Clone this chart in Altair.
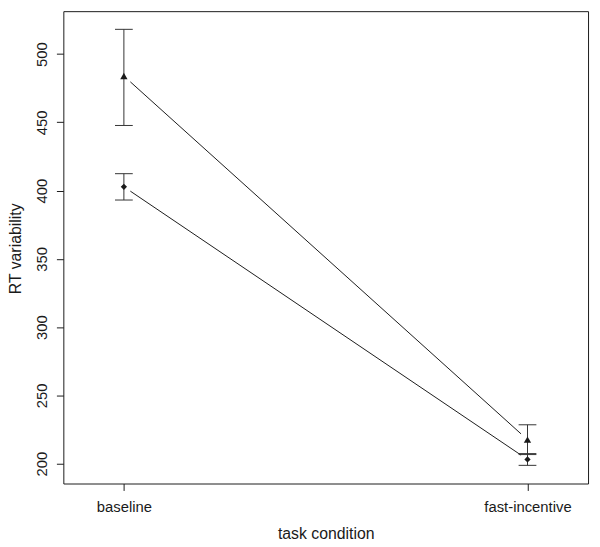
import altair as alt
import pandas as pd

# ---- data ----
conditions = ["baseline", "fast-incentive"]
cond_pos = [1, 2]

tri_mean = [483.9, 217.6]
tri_upper = [518.1, 228.5]
tri_lower = [447.7, 206.7]

dia_mean = [402.8, 203.1]
dia_upper = [412.4, 207.4]
dia_lower = [393.1, 198.8]

y_ticks = [200, 250, 300, 350, 400, 450, 500]

# ---- styling constants ----
FONT = "Liberation Sans"
INK = "#1a1a1a"
CAP_HALF = 0.022   # half width of error-bar caps, x units
GAP = 0.016        # R type="b" gap fraction along segments

rows = []
for series, means, lo, hi in [("tri", tri_mean, tri_lower, tri_upper),
                              ("dia", dia_mean, dia_lower, dia_upper)]:
    for c, p, m, l, h in zip(conditions, cond_pos, means, lo, hi):
        rows.append({"series": series, "cond": c, "pos": p, "mean": m, "lo": l, "hi": h})
df = pd.DataFrame(rows)

seg_rows = []
for series, means in [("tri", tri_mean), ("dia", dia_mean)]:
    x1, x2 = cond_pos
    y1, y2 = means
    seg_rows.append({
        "series": series,
        "xs": x1 + GAP * (x2 - x1), "ys": y1 + GAP * (y2 - y1),
        "xe": x2 - GAP * (x2 - x1), "ye": y2 - GAP * (y2 - y1),
    })
seg = pd.DataFrame(seg_rows)

label_expr = " : ".join(
    [f"datum.value == {p} ? '{c}'" for p, c in zip(cond_pos, conditions)]
) + " : ''"

xscale = alt.Scale(domain=[0.85, 2.15], nice=False, zero=False)
yscale = alt.Scale(domain=[185.5, 531.4], nice=False, zero=False)

x_axis = alt.Axis(values=cond_pos, labelExpr=label_expr, title="task condition",
                  labelPadding=9, titleBaseline="top", titleY=43)
y_axis = alt.Axis(values=y_ticks, title="RT variability", labelAngle=-90,
                  labelAlign="center", labelBaseline="bottom", labelPadding=7,
                  titleX=-40, titleY=240, titleAngle=-90, titleBaseline="bottom")

base = alt.Chart(df)

lines = alt.Chart(seg).mark_rule(color=INK, strokeWidth=1).encode(
    x=alt.X("xs:Q", scale=xscale, axis=x_axis),
    y=alt.Y("ys:Q", scale=yscale, axis=y_axis),
    x2="xe:Q",
    y2="ye:Q",
)

bars = base.mark_rule(color="#333333", strokeWidth=1).encode(
    x=alt.X("pos:Q", scale=xscale),
    y=alt.Y("lo:Q", scale=yscale),
    y2="hi:Q",
)

caps_hi = base.transform_calculate(
    xa=f"datum.pos - {CAP_HALF}", xb=f"datum.pos + {CAP_HALF}"
).mark_rule(color="#333333", strokeWidth=1).encode(
    x=alt.X("xa:Q", scale=xscale), x2="xb:Q", y=alt.Y("hi:Q", scale=yscale)
)
caps_lo = base.transform_calculate(
    xa=f"datum.pos - {CAP_HALF}", xb=f"datum.pos + {CAP_HALF}"
).mark_rule(color="#333333", strokeWidth=1).encode(
    x=alt.X("xa:Q", scale=xscale), x2="xb:Q", y=alt.Y("lo:Q", scale=yscale)
)

points = base.mark_point(filled=True, opacity=1, color=INK).encode(
    x=alt.X("pos:Q", scale=xscale),
    y=alt.Y("mean:Q", scale=yscale),
    shape=alt.Shape("series:N", scale=alt.Scale(domain=["tri", "dia"],
                                                range=["triangle-up", "diamond"]),
                    legend=None),
    size=alt.Size("series:N", scale=alt.Scale(domain=["tri", "dia"], range=[55, 40]),
                  legend=None),
)

chart = alt.layer(lines, bars, caps_hi, caps_lo, points).properties(
    width=531, height=478,
    autosize=alt.AutoSizeParams(type="none"),
    padding={"left": 56, "top": 0, "right": 4, "bottom": 58},
    background="white",
).configure_view(
    stroke=INK, strokeWidth=1
).configure_axis(
    domain=False, grid=False, ticks=True, tickColor=INK, tickSize=7,
    labelFont=FONT, labelFontSize=15, labelColor=INK,
    titleFont=FONT, titleFontSize=16, titleColor=INK, titleFontWeight="normal",
)

chart.save("out.html", embed_options={"renderer": "svg", "actions": False})
